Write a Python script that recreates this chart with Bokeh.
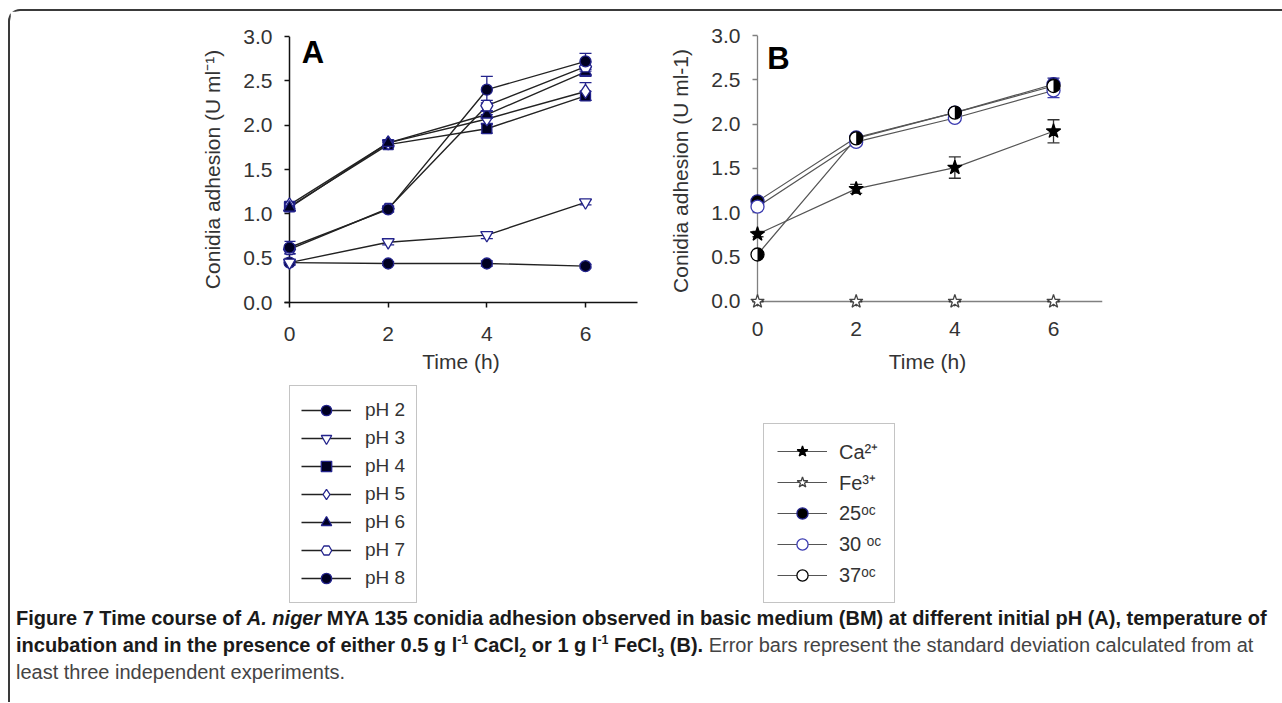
import numpy as np
from bokeh.plotting import figure
from bokeh.models import (ColumnDataSource, Whisker, TeeHead, Legend, LegendItem, Label, Span,
                          FixedTicker, Range1d, Div, NumeralTickFormatter)
from bokeh.layouts import column, row
from bokeh.embed import file_html
from bokeh.resources import INLINE

# ---------------- data ----------------
time_h = [0, 2, 4, 6]
x_ticks = [0, 2, 4, 6]
y_ticks = [0.0, 0.5, 1.0, 1.5, 2.0, 2.5, 3.0]

# Panel A: initial pH
ph_labels = ["pH 2", "pH 3", "pH 4", "pH 5", "pH 6", "pH 7", "pH 8"]
ph2 = [0.45, 0.44, 0.44, 0.41]
ph3 = [0.45, 0.68, 0.76, 1.13]
ph4 = [1.08, 1.78, 1.96, 2.33]
ph5 = [1.10, 1.80, 2.07, 2.38]
ph6 = [1.07, 1.80, 2.12, 2.60]
ph7 = [0.60, 1.06, 2.22, 2.66]
ph8 = [0.62, 1.05, 2.40, 2.72]
ph2_err = [0.02, 0.02, 0.03, 0.02]
ph3_err = [0.03, 0.03, 0.04, 0.03]
ph4_err = [0.04, 0.03, 0.05, 0.05]
ph5_err = [0.04, 0.03, 0.05, 0.10]
ph6_err = [0.04, 0.03, 0.04, 0.05]
ph7_err = [0.05, 0.03, 0.06, 0.05]
ph8_err = [0.07, 0.03, 0.15, 0.09]

# Panel B: ions and temperature
b_labels = ["Ca²⁺", "Fe³⁺", "25ᵒᶜ", "30 ᵒᶜ", "37ᵒᶜ"]
ca = [0.76, 1.27, 1.51, 1.92]
fe = [0.0, 0.0, 0.0, 0.0]
t25 = [1.13, 1.85, 2.13, 2.45]
t30 = [1.07, 1.80, 2.07, 2.38]
t37 = [0.53, 1.84, 2.13, 2.43]
ca_err = [0.03, 0.05, 0.12, 0.13]
fe_err = [0.0, 0.0, 0.0, 0.0]
t25_err = [0.03, 0.03, 0.03, 0.07]
t30_err = [0.03, 0.03, 0.03, 0.08]
t37_err = [0.03, 0.03, 0.03, 0.05]

FONT = "Liberation Sans"
NAVY = "#23238c"
TXT = "#333333"
GL = "#555555"


def style_axes(p, color, width):
    for ax in (p.xaxis[0], p.yaxis[0]):
        ax.axis_line_color = color
        ax.axis_line_width = width
        ax.major_tick_line_color = color
        ax.major_tick_line_width = width
        ax.minor_tick_line_color = None
        ax.major_label_text_font = FONT
        ax.major_label_text_font_size = "21px"
        ax.major_label_text_color = TXT
        ax.axis_label_text_font = FONT
        ax.axis_label_text_font_size = "21px"
        ax.axis_label_text_font_style = "normal"
        ax.axis_label_text_color = TXT
    p.xaxis.ticker = FixedTicker(ticks=x_ticks)
    p.yaxis.ticker = FixedTicker(ticks=y_ticks)
    p.yaxis.formatter = NumeralTickFormatter(format="0.0")
    p.grid.visible = False
    p.outline_line_color = None


def legend_fig(width, height):
    # its view lies far from the data, so only the legend shows
    q = figure(width=width, height=height, x_range=Range1d(-10, -9), y_range=Range1d(-10, -9),
               min_border_left=0, min_border_right=0, min_border_top=0, min_border_bottom=0,
               x_axis_type=None, y_axis_type=None,
               output_backend="svg", toolbar_location=None)
    q.outline_line_color = None
    return q


def add_series(p, q, y, err, marker, size, fill, edge, line_color, line_width, err_color):
    src = ColumnDataSource(dict(x=time_h, y=y,
                                upper=[v + e for v, e in zip(y, err)],
                                lower=[v - e for v, e in zip(y, err)]))
    p.line("x", "y", source=src, line_color=line_color, line_width=line_width)
    w = Whisker(source=src, base="x", upper="upper", lower="lower",
                line_color=err_color, line_width=1.3, level="annotation",
                upper_head=TeeHead(size=12, line_color=err_color, line_width=1.3),
                lower_head=TeeHead(size=12, line_color=err_color, line_width=1.3))
    p.add_layout(w)
    p.scatter("x", "y", source=src, marker=marker, size=size,
              fill_color=fill, line_color=edge, line_width=1.3, level="overlay")
    lq = q.line("x", "y", source=src, line_color=line_color, line_width=line_width)
    sq = q.scatter("x", "y", source=src, marker=marker, size=size,
                   fill_color=fill, line_color=edge, line_width=1.3)
    return src, [lq, sq]


# ---------------- panel A ----------------
pA = figure(width=630, height=369, x_range=Range1d(-0.1014, 7.054), y_range=Range1d(0.0, 3.0),
            min_border_left=274, min_border_right=3, min_border_top=25, min_border_bottom=78,
            output_backend="svg", toolbar_location=None,
            x_axis_label="Time (h)", y_axis_label="Conidia adhesion (U ml⁻¹)")
style_axes(pA, "#111111", 1.5)
pA.xaxis.major_tick_out = 5
pA.xaxis.major_tick_in = 0
pA.xaxis.major_label_standoff = 19
pA.xaxis.axis_label_standoff = 6
pA.yaxis.axis_line_color = None
pA.yaxis.major_tick_in = 5
pA.yaxis.major_tick_out = 0
pA.yaxis.major_label_standoff = 12
pA.yaxis.axis_label_standoff = 16
pA.add_layout(Span(location=0, dimension="height", line_color="#111111", line_width=1.5))
qA = legend_fig(630, 224)

a_specs = [
    (ph2, ph2_err, "circle", 11, "#000022"),
    (ph3, ph3_err, "inverted_triangle", 12, "white"),
    (ph4, ph4_err, "square", 10, "#000022"),
    (ph5, ph5_err, "diamond", 14, "white"),
    (ph6, ph6_err, "triangle", 12, "#000022"),
    (ph7, ph7_err, "hex", 12, "white"),
    (ph8, ph8_err, "circle", 11, "#000022"),
]
a_items = []
for lab, (y, e, m, s, f) in zip(ph_labels, a_specs):
    _, rs = add_series(pA, qA, y, e, m, s, f, NAVY, "#222222", 1.4, NAVY)
    a_items.append(LegendItem(label=lab, renderers=rs))

# legend frame is aligned with panel A's frame (left edge at x = -0.1 h)
legA = Legend(items=a_items, location=(5, 1), glyph_width=50, glyph_height=26,
              label_height=26, label_standoff=14, padding=11, spacing=2, margin=0,
              border_line_color="#8a8a8a", border_line_width=1.5,
              background_fill_color="white", background_fill_alpha=1.0,
              label_text_font=FONT, label_text_font_size="19px", label_text_color=TXT)
qA.add_layout(legA)
pA.add_layout(Label(x=0.25, y=3.02, text="A", text_font=FONT, text_font_style="bold",
                    text_font_size="31px", text_baseline="top", text_color="black"))

# ---------------- panel B ----------------
pB = figure(width=620, height=369, x_range=Range1d(-0.1014, 6.993), y_range=Range1d(-0.0564, 3.0),
            min_border_left=112, min_border_right=158, min_border_top=24, min_border_bottom=74,
            output_backend="svg", toolbar_location=None,
            x_axis_label="Time (h)", y_axis_label="Conidia adhesion (U ml-1)")
style_axes(pB, "#808080", 1.3)
pB.xaxis.axis_line_color = None
pB.xaxis.major_tick_in = 5
pB.xaxis.major_tick_out = 0
pB.xaxis.major_label_standoff = 15
pB.xaxis.axis_label_standoff = 11
pB.yaxis.axis_line_color = None
pB.yaxis.major_tick_in = 5
pB.yaxis.major_tick_out = 0
pB.yaxis.major_label_standoff = 12
pB.yaxis.axis_label_standoff = 16
pB.add_layout(Span(location=0, dimension="height", line_color="#808080", line_width=1.3))
pB.add_layout(Span(location=0, dimension="width", line_color="#808080", line_width=1.3))
qB = legend_fig(620, 224)

b_items = []
_, rs = add_series(pB, qB, ca, ca_err, "star", 15, "black", "black", GL, 1.2, "#333333")
b_items.append(LegendItem(label=b_labels[0], renderers=rs))
_, rs = add_series(pB, qB, fe, fe_err, "star", 14, "white", "#444444", GL, 1.2, "#333333")
b_items.append(LegendItem(label=b_labels[1], renderers=rs))
_, rs = add_series(pB, qB, t25, t25_err, "circle", 13, "black", NAVY, GL, 1.2, NAVY)
b_items.append(LegendItem(label=b_labels[2], renderers=rs))
_, rs = add_series(pB, qB, t30, t30_err, "circle", 13, "white", "#3a3ab0", GL, 1.2, "#3a3ab0")
b_items.append(LegendItem(label=b_labels[3], renderers=rs))
src37, rs = add_series(pB, qB, t37, t37_err, "circle", 13, "white", "black", GL, 1.2, "#333333")
pB.wedge("x", "y", source=src37, radius=6.5, radius_units="screen",
         start_angle=-np.pi / 2, end_angle=np.pi / 2, fill_color="black",
         line_color=None, level="overlay")
b_items.append(LegendItem(label=b_labels[4], renderers=rs))

legB = Legend(items=b_items, location=(11, 1), glyph_width=50, glyph_height=28,
              label_height=28, label_standoff=12, padding=13, spacing=3, margin=0,
              border_line_color="#8a8a8a", border_line_width=1.5,
              background_fill_color="white", background_fill_alpha=1.0,
              label_text_font=FONT, label_text_font_size="20px", label_text_color=TXT)
qB.add_layout(legB)
pB.add_layout(Label(x=0.2, y=2.94, text="B", text_font=FONT, text_font_style="bold",
                    text_font_size="31px", text_baseline="top", text_color="black"))

# ---------------- caption ----------------
sup = '<sup style="font-size:62%;line-height:0">'
sub = '<sub style="font-size:62%;line-height:0">'
caption_html = (
    '<div style="font-family:\'Liberation Sans\',Arial,sans-serif;position:relative;top:-4px;'
    'font-size:20px;line-height:27px;color:#1a1a1a;padding-left:1px;white-space:nowrap">'
    '<b>Figure 7 Time course of <i>A. niger</i> MYA 135 conidia adhesion observed in basic medium '
    '(BM) at different initial pH (A), temperature of</b><br>'
    '<b>incubation and in the presence of either 0.5 g l' + sup + '-1</sup> CaCl' + sub + '2</sub> '
    'or 1 g l' + sup + '-1</sup> FeCl' + sub + '3</sub> (B).</b> '
    '<span style="color:#444444">Error bars represent the standard deviation calculated from at</span><br>'
    '<span style="color:#444444">least three independent experiments.</span></div>'
)
cap = Div(text=caption_html, width=1262, height=88)

root = column(row(column(pA, qA), column(pB, qB)), cap,
              styles={"border-top": "2px solid #3a3a3a", "border-left": "2px solid #3a3a3a",
                      "border-top-left-radius": "12px", "margin-top": "9px",
                      "margin-left": "8px"})

open("out.html", "w").write(file_html(root, INLINE))
